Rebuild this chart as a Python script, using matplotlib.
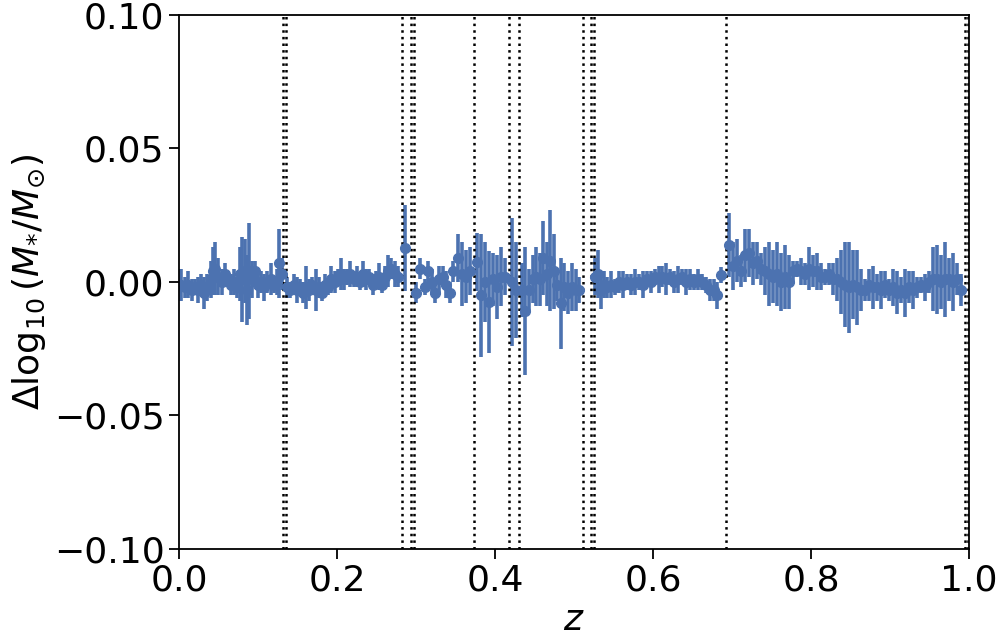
import matplotlib
matplotlib.use("Agg")
import matplotlib.pyplot as plt
import numpy as np

# redshift of each galaxy bin
z = [
    # 0.00 - 0.13
    0.003, 0.008, 0.012, 0.016, 0.020, 0.024, 0.028, 0.032, 0.036, 0.040,
    0.043, 0.046, 0.050, 0.054, 0.058, 0.062, 0.066, 0.070, 0.074, 0.077,
    0.080, 0.083, 0.086, 0.089, 0.092, 0.096, 0.100, 0.104, 0.108, 0.112,
    0.116, 0.120, 0.124, 0.127, 0.130,
    # 0.135 - 0.28
    0.137, 0.141, 0.145, 0.149, 0.153, 0.157, 0.161, 0.165, 0.169, 0.173,
    0.177, 0.181, 0.185, 0.189, 0.193, 0.197, 0.201, 0.205, 0.209, 0.213,
    0.217, 0.221, 0.225, 0.229, 0.233, 0.237, 0.241, 0.245, 0.249, 0.253,
    0.257, 0.261, 0.265, 0.269, 0.273, 0.277,
    0.2855,
    # 0.30 - 0.37
    0.300, 0.305, 0.311, 0.315, 0.320, 0.324, 0.329, 0.334, 0.338, 0.343,
    0.347, 0.353, 0.358, 0.363, 0.368,
    # 0.375 - 0.418
    0.377, 0.382, 0.387, 0.392, 0.397, 0.403, 0.408, 0.413,
    0.4215, 0.4265,
    # 0.43 - 0.51
    0.434, 0.438, 0.443, 0.448, 0.452, 0.457, 0.461, 0.466, 0.470, 0.475,
    0.479, 0.483, 0.488, 0.492, 0.497, 0.502, 0.506,
    # 0.525 - 0.69
    0.527, 0.530, 0.534, 0.538, 0.542, 0.547, 0.552, 0.557, 0.562, 0.567,
    0.572, 0.577, 0.582, 0.587, 0.592, 0.597, 0.602, 0.607, 0.612, 0.617,
    0.622, 0.627, 0.632, 0.637, 0.642, 0.647, 0.652, 0.657, 0.662, 0.667,
    0.672, 0.677, 0.681, 0.686,
    # 0.69 - 1.0
    0.696, 0.701, 0.706, 0.711, 0.716, 0.722, 0.727, 0.732, 0.737, 0.742,
    0.747, 0.752, 0.757, 0.762, 0.767, 0.772, 0.777, 0.782, 0.787, 0.792,
    0.797, 0.803, 0.808, 0.813, 0.818, 0.823, 0.828, 0.833, 0.838, 0.843,
    0.848, 0.853, 0.858, 0.863, 0.868, 0.873, 0.878, 0.884, 0.889, 0.894,
    0.899, 0.904, 0.909, 0.914, 0.919, 0.924, 0.929, 0.934, 0.939, 0.944,
    0.949, 0.954, 0.959, 0.965, 0.970, 0.975, 0.980, 0.985, 0.990,
]

dlogm = [
    -0.001, -0.002, -0.001, -0.003, -0.002, -0.003, -0.001, -0.004, -0.002, 0.001,
    0.004, 0.005, 0.002, 0.000, 0.003, 0.001, -0.001, 0.000, -0.002, 0.003,
    0.001, 0.004, -0.003, 0.004, 0.001, 0.004, -0.001, 0.000, -0.002, 0.000,
    0.001, -0.001, 0.000, 0.007, 0.003,
    -0.002, -0.003, -0.001, -0.003, -0.002, -0.004, -0.002, -0.003, -0.001, -0.003,
    -0.002, -0.004, -0.001, -0.002, 0.001, 0.000, 0.002, 0.003, 0.001, 0.002,
    0.003, 0.001, 0.002, 0.000, 0.003, 0.001, 0.002, -0.001, 0.001, 0.002,
    -0.001, 0.002, 0.004, 0.005, 0.003, 0.002,
    0.0127,
    -0.004, 0.005, -0.002, 0.004, 0.000, -0.004, 0.001, 0.002, -0.001, -0.004,
    0.004, 0.009, 0.003, 0.002, 0.004,
    0.0075, -0.005, 0.000, -0.0075, 0.001, -0.002, 0.002, 0.002,
    0.000, -0.003,
    -0.003, -0.011, -0.003, 0.001, 0.002, 0.001, 0.009, 0.003, 0.008, 0.004,
    -0.001, -0.008, -0.002, -0.004, -0.002, -0.003, -0.003,
    0.002, 0.003, -0.003, -0.001, -0.002, -0.001, -0.002, 0.000, -0.001, 0.000,
    -0.001, 0.000, 0.000, -0.001, 0.001, 0.000, 0.002, 0.001, 0.002, 0.001,
    0.002, 0.000, 0.001, 0.002, 0.000, 0.001, 0.000, 0.001, 0.000, -0.001,
    -0.003, -0.003, -0.005, 0.0025,
    0.014, 0.006, 0.008, 0.004, 0.010, 0.011, 0.007, 0.008, 0.005, 0.004,
    0.003, 0.002, 0.003, 0.000, 0.002, 0.000, 0.004, 0.005, 0.004, 0.003,
    0.005, 0.004, 0.004, 0.002, 0.002, 0.003, 0.001, 0.001, 0.000, -0.001,
    -0.002, -0.001, -0.002, -0.003, -0.003, -0.001, -0.002, -0.002, -0.003, -0.001,
    -0.003, -0.002, -0.004, -0.003, -0.004, -0.002, -0.003, -0.002, -0.001, -0.002,
    0.000, 0.001, 0.001, 0.000, 0.001, 0.001, 0.000, 0.001, -0.003,
]

dlogm_err = [
    0.006, 0.004, 0.005, 0.004, 0.003, 0.005, 0.004, 0.006, 0.005, 0.007,
    0.009, 0.010, 0.007, 0.005, 0.004, 0.003, 0.004, 0.005, 0.004, 0.010,
    0.016, 0.012, 0.013, 0.018, 0.007, 0.004, 0.005, 0.004, 0.005, 0.004,
    0.006, 0.003, 0.005, 0.013, 0.006,
    0.004, 0.003, 0.004, 0.005, 0.003, 0.004, 0.008, 0.004, 0.003, 0.008,
    0.004, 0.003, 0.004, 0.003, 0.005, 0.004, 0.003, 0.006, 0.004, 0.003,
    0.005, 0.003, 0.004, 0.003, 0.005, 0.004, 0.003, 0.004, 0.003, 0.005,
    0.003, 0.004, 0.006, 0.004, 0.005, 0.004,
    0.016,
    0.004, 0.004, 0.003, 0.004, 0.005, 0.004, 0.005, 0.004, 0.005, 0.004,
    0.004, 0.009, 0.012, 0.010, 0.009,
    0.011, 0.023, 0.015, 0.019, 0.010, 0.012, 0.011, 0.007,
    0.024, 0.018,
    0.010, 0.024, 0.008, 0.009, 0.011, 0.010, 0.014, 0.012, 0.019, 0.014,
    0.006, 0.017, 0.009, 0.008, 0.009, 0.008, 0.005,
    0.007, 0.009, 0.007, 0.005, 0.004, 0.005, 0.003, 0.004, 0.005, 0.003,
    0.004, 0.005, 0.003, 0.005, 0.003, 0.004, 0.003, 0.005, 0.004, 0.006,
    0.003, 0.004, 0.005, 0.003, 0.005, 0.004, 0.003, 0.004, 0.003, 0.003,
    0.004, 0.004, 0.005, 0.003,
    0.012, 0.009, 0.008, 0.006, 0.010, 0.009, 0.008, 0.007, 0.006, 0.009,
    0.012, 0.010, 0.012, 0.011, 0.012, 0.010, 0.004, 0.003, 0.005, 0.004,
    0.008, 0.006, 0.007, 0.005, 0.003, 0.004, 0.006, 0.008, 0.012, 0.016,
    0.017, 0.013, 0.014, 0.008, 0.004, 0.006, 0.008, 0.005, 0.007, 0.005,
    0.004, 0.007, 0.008, 0.005, 0.009, 0.006, 0.007, 0.004, 0.003, 0.005,
    0.004, 0.012, 0.013, 0.010, 0.014, 0.008, 0.011, 0.006, 0.006,
]

# redshift boundaries marked with dotted lines
z_edges = [0.132, 0.135, 0.2823, 0.2938, 0.2973, 0.3738, 0.4181, 0.4308,
           0.5118, 0.5215, 0.5253, 0.692, 0.995, 0.9985]

fig = plt.figure(figsize=(9.97, 6.38), dpi=100)
ax = fig.add_axes([0.1795, 0.1395, 0.7924, 0.837])

ax.errorbar(z, dlogm, yerr=dlogm_err, fmt='o', color='#4c72b0',
            ms=7, elinewidth=2.6, capsize=0)
for ze in z_edges:
    ax.axvline(ze, color='k', ls=':', lw=1.8)

ax.set_xlim(0, 1)
ax.set_ylim(-0.1, 0.1)
ax.set_xticks([0.0, 0.2, 0.4, 0.6, 0.8, 1.0])
ax.set_yticks([-0.10, -0.05, 0.00, 0.05, 0.10])
fmt_y = lambda v, pos: ('%.2f' % v).replace('-', '\u2212')
ax.yaxis.set_major_formatter(matplotlib.ticker.FuncFormatter(fmt_y))
ax.xaxis.set_major_formatter(matplotlib.ticker.FormatStrFormatter('%.1f'))
ax.tick_params(labelsize=26, length=7, width=1.3, direction='out')
for s in ax.spines.values():
    s.set_linewidth(1.3)

ax.set_xlabel(r'$z$', fontsize=26, labelpad=4)
ax.set_ylabel(r'$\Delta \log_{10}(M_{*}/M_{\odot})$', fontsize=26)

fig.savefig('out.png', dpi=100)
